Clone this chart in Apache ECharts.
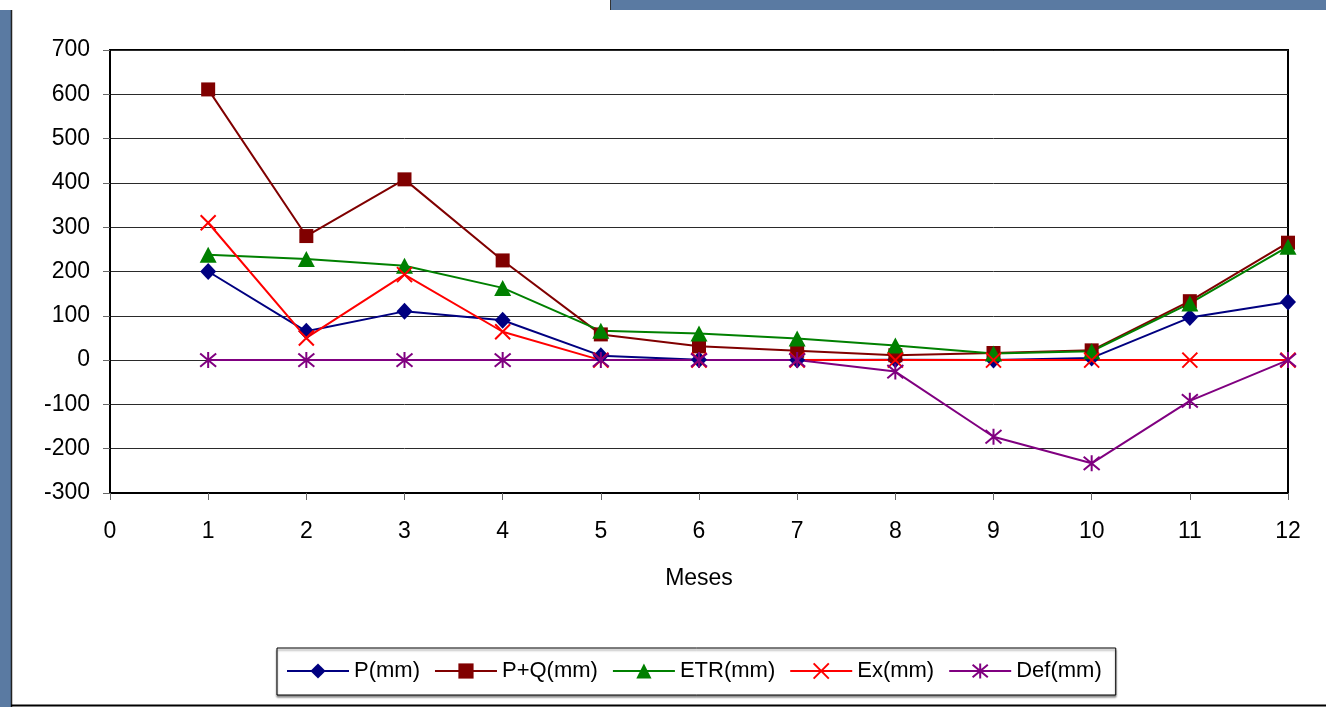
<!DOCTYPE html>
<html>
<head>
<meta charset="utf-8">
<script src="https://cdn.jsdelivr.net/npm/echarts@6/dist/echarts.min.js"></script>
<style>
  html, body { margin: 0; padding: 0; background: #ffffff; }
  #chart { width: 1326px; height: 707px; }
</style>
</head>
<body>
<div id="chart"></div>
<script>
// Monthly water balance (mm) by month
const months = [1, 2, 3, 4, 5, 6, 7, 8, 9, 10, 11, 12];
const pMM   = [200, 65, 110, 90, 10, 1, 0, 1, 0, 5, 96, 131];
const pqMM  = [611, 280, 408, 225, 58, 31, 21, 11, 16, 22, 133, 265];
const etrMM = [238, 228, 213, 163, 66, 60, 49, 33, 15, 20, 128, 256];
const exMM  = [310, 50, 193, 64, 0, 0, 0, 0, 0, 0, 0, 0];
const defMM = [0, 0, 0, 0, 0, 0, 0, -26, -173, -233, -92, 0];

const seriesNames = ['P(mm)', 'P+Q(mm)', 'ETR(mm)', 'Ex(mm)', 'Def(mm)'];
const xTicks = { min: 0, max: 12, step: 1 };
const yTicks = { min: -300, max: 700, step: 100 };

const FONT = '"Liberation Sans", Arial, sans-serif';
const crossPath = 'path://M0 0 L10 10 M10 0 L0 10';
const starPath = 'path://M0 0 L10 10 M10 0 L0 10 M5 -1 L5 11';

function pairs(values) {
  return months.map((m, i) => [m, values[i]]);
}

function lineSeries(name, values, color, symbol, size, stroked) {
  return {
    name: name,
    type: 'line',
    data: pairs(values),
    symbol: symbol,
    symbolSize: size,
    showAllSymbol: true,
    lineStyle: { color: color, width: 2 },
    itemStyle: stroked
      ? { color: 'rgba(0,0,0,0)', borderColor: color, borderWidth: 2 }
      : { color: color, borderWidth: 0 },
    emphasis: { disabled: true },
    animation: false
  };
}

const chart = echarts.init(document.getElementById('chart'), null, { renderer: 'canvas' });

const blue = '#5a7aa2';

chart.setOption({
  backgroundColor: '#ffffff',
  animation: false,
  textStyle: { fontFamily: FONT, color: '#000' },
  graphic: [
    { type: 'rect', shape: { x: 0, y: 10, width: 11, height: 697 }, style: { fill: blue } },
    { type: 'rect', shape: { x: 610, y: 0, width: 716, height: 10 }, style: { fill: blue } },
    { type: 'line', shape: { x1: 11.5, y1: 10, x2: 11.5, y2: 707 }, style: { stroke: '#222', lineWidth: 1.5 } },
    { type: 'line', shape: { x1: 610.5, y1: 0, x2: 610.5, y2: 10 }, style: { stroke: '#333', lineWidth: 1 } },
    { type: 'line', shape: { x1: 11, y1: 705.5, x2: 1326, y2: 705.5 }, style: { stroke: '#000', lineWidth: 2 } }
  ],
  grid: {
    left: 110, right: 38, top: 50, bottom: 214,
    show: true, borderColor: '#000', borderWidth: 2, backgroundColor: '#fff',
    containLabel: false
  },
  legend: {
    left: 277, top: 648,
    padding: [12, 14, 13, 9],
    itemWidth: 62, itemHeight: 19, itemGap: 14,
    borderColor: '#000', borderWidth: 1,
    shadowColor: 'rgba(0,0,0,0.45)', shadowOffsetY: 2, shadowBlur: 2,
    backgroundColor: '#fff',
    textStyle: { fontFamily: FONT, fontSize: 22, color: '#000' },
    data: seriesNames
  },
  xAxis: {
    type: 'value',
    min: xTicks.min, max: xTicks.max, interval: xTicks.step,
    name: 'Meses', nameLocation: 'middle', nameGap: 74,
    nameTextStyle: { fontFamily: FONT, fontSize: 23, color: '#000' },
    axisLine: { onZero: false, lineStyle: { color: '#000', width: 2 } },
    axisTick: { show: true, inside: false, length: 7, lineStyle: { color: '#666', width: 1 } },
    axisLabel: { fontFamily: FONT, fontSize: 23, color: '#000', margin: 27 },
    splitLine: { show: false }
  },
  yAxis: {
    type: 'value',
    min: yTicks.min, max: yTicks.max, interval: yTicks.step,
    axisLine: { onZero: false, lineStyle: { color: '#000', width: 2 } },
    axisTick: { show: true, inside: false, length: 7, lineStyle: { color: '#666', width: 1 } },
    axisLabel: { fontFamily: FONT, fontSize: 23, color: '#000', margin: 20 },
    splitLine: { show: true, lineStyle: { color: '#2a2a2a', width: 1 } }
  },
  series: [
    lineSeries(seriesNames[0], pMM, '#000080', 'diamond', [16, 17], false),
    lineSeries(seriesNames[1], pqMM, '#800000', 'rect', 14, false),
    lineSeries(seriesNames[2], etrMM, '#008000', 'triangle', [17, 16], false),
    lineSeries(seriesNames[3], exMM, '#ff0000', crossPath, 15, true),
    lineSeries(seriesNames[4], defMM, '#800080', starPath, 16, true)
  ]
});
</script>
</body>
</html>
